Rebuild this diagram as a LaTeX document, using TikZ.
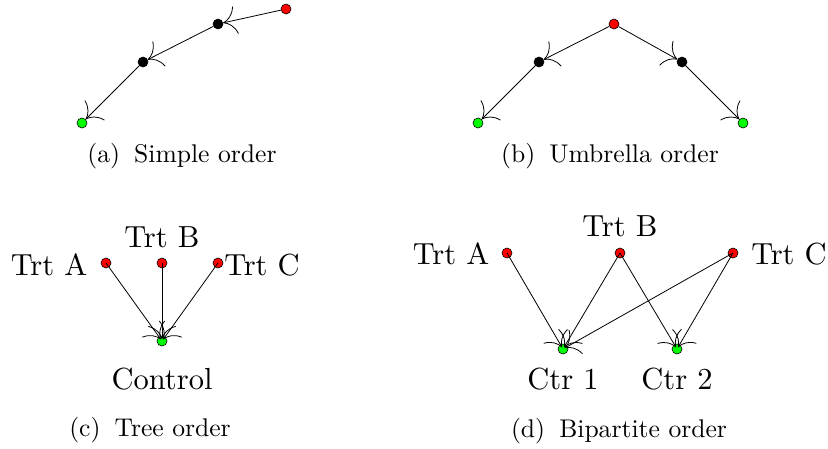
\documentclass[tikz,border=0pt]{standalone}
\usetikzlibrary{arrows.meta}
\tikzset{
  pt/.style={circle,draw=black,line width=0.6pt,inner sep=0pt,minimum size=10pt},
  rednode/.style={pt,fill=red},
  blacknode/.style={pt,fill=black},
  greennode/.style={pt,fill=green},
  conn/.style={line width=0.8pt,-{Computer Modern Rightarrow[length=13pt,width=28pt,line width=0.8pt]}},
  lab/.style={inner sep=0pt,font=\normalsize,scale=3.05},
  captxt/.style={inner sep=0pt,font=\normalsize,scale=2.56}
}
\newcommand{\capsep}{\hspace{0.55em}}
\begin{document}
\begin{tikzpicture}[x=1pt,y=-1pt]
\useasboundingbox (0,0) rectangle (828,448);
% (a)
\node[rednode] (a1) at (286,9) {};
\node[blacknode] (a2) at (218,24) {};
\node[blacknode] (a3) at (143,62) {};
\node[greennode] (a4) at (82,123) {};
\draw[conn] (a1) -- (a2);
\draw[conn] (a2) -- (a3);
\draw[conn] (a3) -- (a4);
\node[captxt] (capa) at (182,156) {(a)\capsep Simple order};
% (b)
\node[rednode] (b1) at (614,24) {};
\node[blacknode] (b2) at (539,62) {};
\node[blacknode] (b3) at (682,62) {};
\node[greennode] (b4) at (478,123) {};
\node[greennode] (b5) at (743,123) {};
\draw[conn] (b1) -- (b2);
\draw[conn] (b2) -- (b4);
\draw[conn] (b1) -- (b3);
\draw[conn] (b3) -- (b5);
\node[captxt] (capb) at (610,156) {(b)\capsep Umbrella order};
% (c)
\node[rednode] (c1) at (106,263) {};
\node[rednode] (c2) at (162,263) {};
\node[rednode] (c3) at (218,263) {};
\node[greennode] (c4) at (162,341) {};
\node[lab] (lc1) at (49,265) {Trt A};
\node[lab] (lc2) at (162,237) {Trt B};
\node[lab] (lc3) at (262,265) {Trt C};
\node[lab] (lc4) at (162,379) {Control};
\draw[conn,shorten >=2pt] (c1.center) -- (c4.center);
\draw[conn,shorten >=2pt] (c2.center) -- (c4.center);
\draw[conn,shorten >=2pt] (c3.center) -- (c4.center);
\node[captxt] (capc) at (150,430) {(c)\capsep Tree order};
% (d)
\node[rednode] (d1) at (507,253) {};
\node[rednode] (d2) at (620,253) {};
\node[rednode] (d3) at (733,253) {};
\node[greennode] (d4) at (563,349) {};
\node[greennode] (d5) at (677,349) {};
\node[lab] (ld1) at (451,254) {Trt A};
\node[lab] (ld2) at (620,226) {Trt B};
\node[lab] (ld3) at (789,254) {Trt C};
\node[lab] (ld4) at (563,379) {Ctr 1};
\node[lab] (ld5) at (677,379) {Ctr 2};
\draw[conn,shorten >=2pt] (d1.center) -- (d4.center);
\draw[conn,shorten >=2pt] (d2.center) -- (d4.center);
\draw[conn,shorten >=2pt] (d3.center) -- (d4.center);
\draw[conn,shorten >=2pt] (d2.center) -- (d5.center);
\draw[conn,shorten >=2pt] (d3.center) -- (d5.center);
\node[captxt] (capd) at (619,431) {(d)\capsep Bipartite order};
\end{tikzpicture}
\end{document}
